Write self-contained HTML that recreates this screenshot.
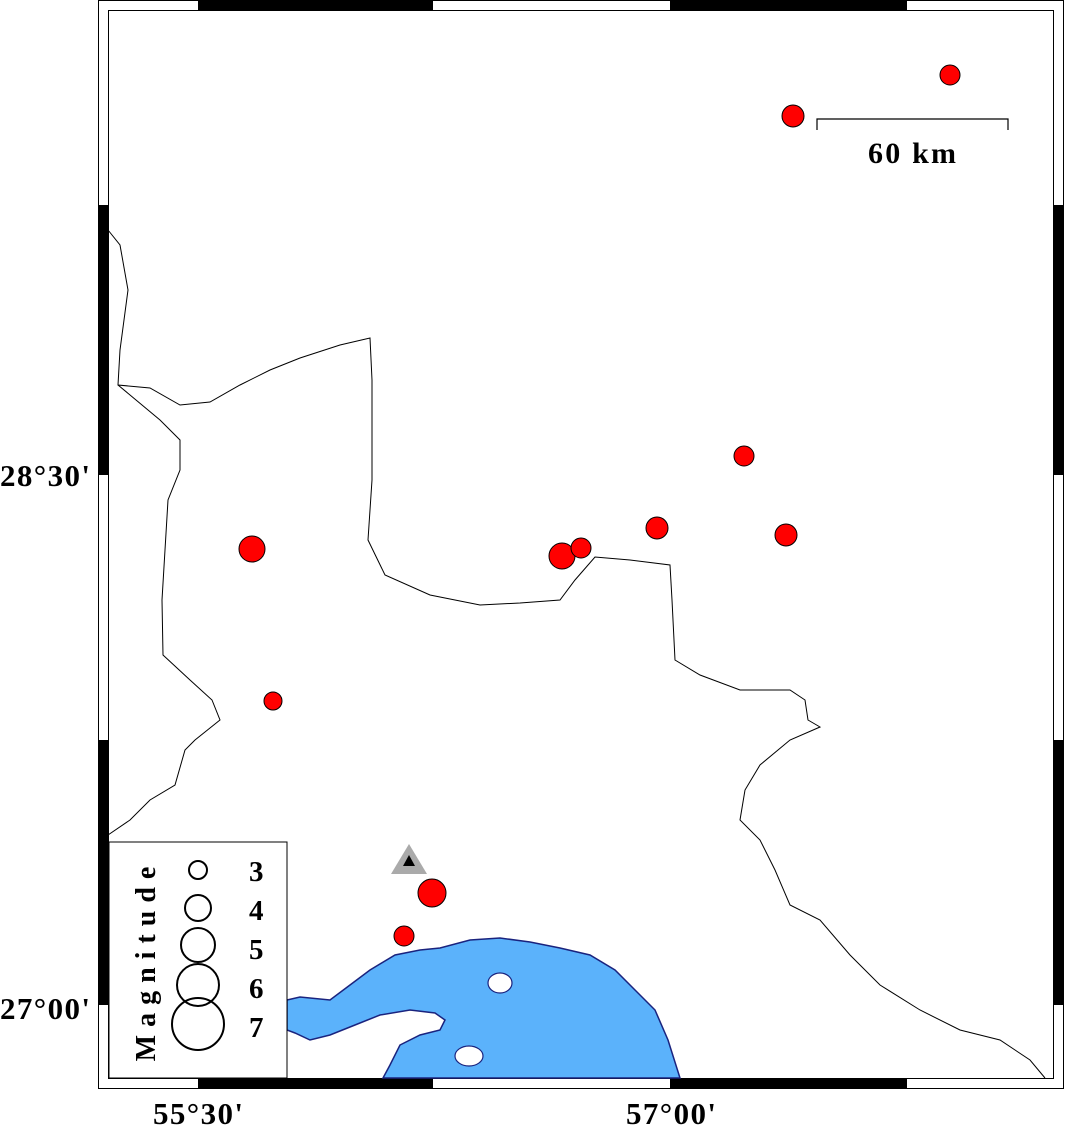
<!DOCTYPE html>
<html><head><meta charset="utf-8"><style>
html,body{margin:0;padding:0;background:#fff}
svg{display:block}
text{font-family:"Liberation Serif",serif;font-weight:bold;fill:#000}
</style></head><body>
<svg width="1066" height="1127" viewBox="0 0 1066 1127" xmlns="http://www.w3.org/2000/svg">
<!-- frame -->
<g stroke="#000" stroke-width="1" fill="none">
<rect x="98.5" y="0.5" width="965" height="1088"/>
<rect x="108.5" y="10.5" width="945" height="1068"/>
</g>
<g fill="#000">
<rect x="198" y="1" width="235" height="9"/><rect x="670" y="1" width="237" height="9"/>
<rect x="198" y="1079" width="235" height="9"/><rect x="670" y="1079" width="237" height="9"/>
<rect x="99" y="205" width="9" height="270"/><rect x="99" y="740" width="9" height="265"/>
<rect x="1054" y="205" width="9" height="270"/><rect x="1054" y="740" width="9" height="265"/>
</g>
<!-- water -->
<path d="M287,1000 L300,997 L330,1000 L350,985 L370,970 L395,955 L420,950 L440,948 L470,940 L500,938 L530,942 L560,948 L590,955 L615,970 L635,990 L655,1010 L668,1040 L680,1078 L383,1078 L390,1065 L400,1045 L420,1035 L440,1030 L445,1020 L435,1013 L410,1010 L380,1015 L355,1025 L330,1035 L310,1040 L295,1033 L287,1030 Z" fill="#5bb2fb" stroke="#1a237e" stroke-width="1.5"/>
<ellipse cx="500" cy="983" rx="12" ry="10" fill="#fff" stroke="#1a237e" stroke-width="1.2"/>
<ellipse cx="469" cy="1056" rx="14" ry="10" fill="#fff" stroke="#1a237e" stroke-width="1.2"/>
<!-- borders -->
<polyline fill="none" stroke="#000" stroke-width="1" points="108,230 120,245 128,290 120,350 118,385 150,388 180,405 210,402 240,385 270,370 300,358 340,345 370,338 372,380 372,480 368,540 385,575 430,595 480,605 520,603 560,600 575,580 595,557 630,560 670,565 672,600 675,660 700,675 740,690 790,690 805,700 808,720 820,727 790,740 760,765 745,790 740,820 760,840 775,870 790,905 820,920 850,955 880,985 920,1010 960,1030 1000,1040 1030,1060 1045,1078"/>
<polyline fill="none" stroke="#000" stroke-width="1" points="108,835 130,820 150,800 175,785 185,750 195,740 220,720 212,700 190,680 163,655 162,600 165,550 168,500 180,470 180,440 160,420 130,395 118,385"/>
<!-- events -->
<g fill="#f00" stroke="#000" stroke-width="1">
<circle cx="950" cy="75" r="10"/><circle cx="793" cy="116" r="11"/>
<circle cx="744" cy="456" r="10"/><circle cx="657" cy="528" r="11"/>
<circle cx="786" cy="535" r="11"/><circle cx="562" cy="556" r="13"/>
<circle cx="581" cy="548" r="10"/><circle cx="252" cy="549" r="13"/>
<circle cx="273" cy="701" r="9"/><circle cx="432" cy="893" r="14"/>
<circle cx="404" cy="936" r="10"/>
</g>
<polygon points="409,844 391,874 427,874" fill="#aaa"/>
<polygon points="409,855 403,866 415,866" fill="#000"/>
<!-- scale bar -->
<polyline points="817,130 817,119 1008,119 1008,130" fill="none" stroke="#000" stroke-width="1.2"/>
<text x="868" y="163" font-size="30" textLength="88">60 km</text>
<!-- legend -->
<rect x="109" y="842" width="178" height="236" fill="#fff" stroke="#000" stroke-width="1"/>
<text transform="translate(155,960) rotate(-90)" font-size="28" text-anchor="middle" letter-spacing="8">Magnitude</text>
<g fill="none" stroke="#000" stroke-width="2">
<circle cx="198" cy="870" r="9"/><circle cx="198" cy="908" r="13"/>
<circle cx="198" cy="945" r="17"/><circle cx="198" cy="985" r="21"/>
<circle cx="198" cy="1024" r="26"/>
</g>
<g font-size="29">
<text x="249" y="881">3</text><text x="249" y="920">4</text><text x="249" y="959">5</text><text x="249" y="998">6</text><text x="249" y="1037">7</text>
</g>
<g font-size="31">
<text x="0" y="486" textLength="90">28°30'</text>
<text x="0" y="1019" textLength="90">27°00'</text>
<text x="153" y="1124" textLength="90">55°30'</text>
<text x="626" y="1124" textLength="90">57°00'</text>
</g>
</svg>
</body></html>
